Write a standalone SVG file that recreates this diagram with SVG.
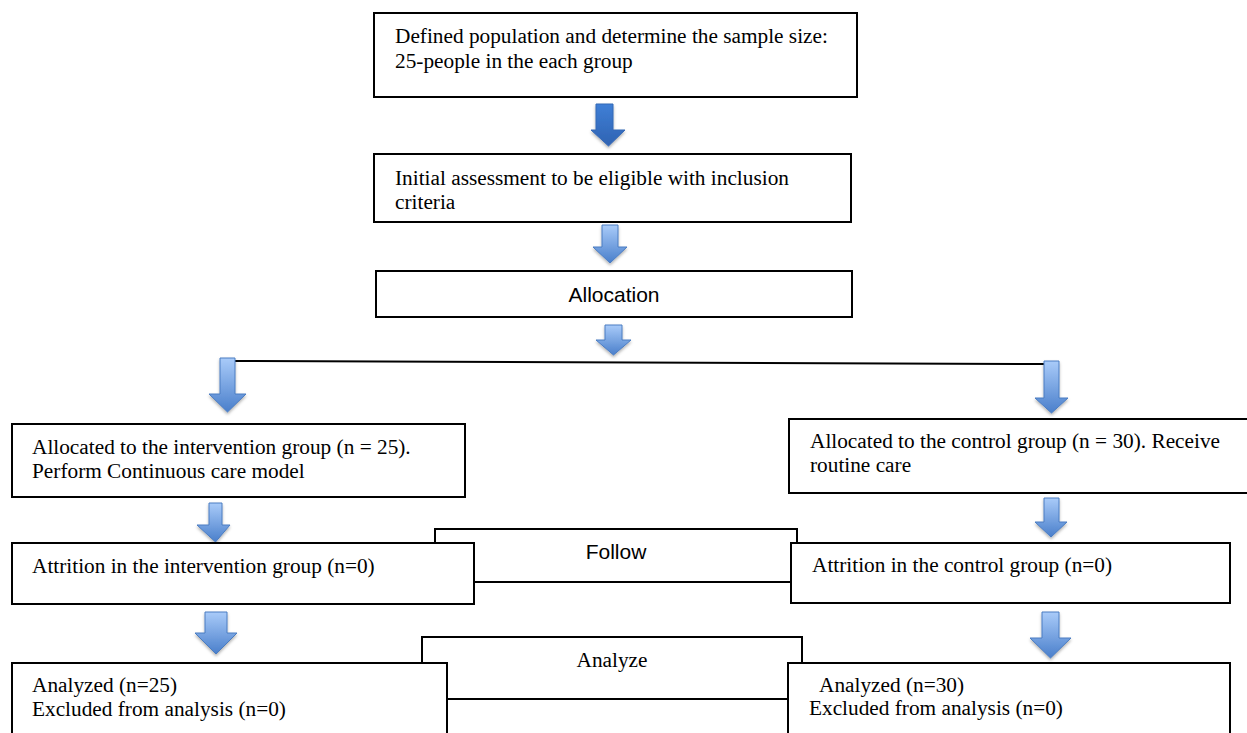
<svg xmlns="http://www.w3.org/2000/svg" width="1247" height="733" viewBox="0 0 1247 733">
<defs>
<linearGradient id="gLight" x1="0" y1="0" x2="0" y2="1">
<stop offset="0" stop-color="#a9cbf9"/>
<stop offset="1" stop-color="#4a7fcb"/>
</linearGradient>
<linearGradient id="gDark" x1="0" y1="0" x2="0" y2="1">
<stop offset="0" stop-color="#3f7fd6"/>
<stop offset="1" stop-color="#2f63b2"/>
</linearGradient>
<filter id="sh" x="-30%" y="-20%" width="160%" height="150%">
<feDropShadow dx="0" dy="2" stdDeviation="1.5" flood-color="#000" flood-opacity="0.3"/>
</filter>
<style>
.box{fill:#fff;stroke:#000;stroke-width:2}
.t{font-family:"Liberation Serif","Times New Roman",serif;font-size:21.3px;fill:#000}
.s{font-family:"Liberation Sans",Arial,sans-serif;font-size:21px;fill:#000}
.arL{fill:url(#gLight);stroke:#4a7cc2;stroke-width:1;filter:url(#sh)}
.arD{fill:url(#gDark);stroke:#3568b5;stroke-width:1;filter:url(#sh)}
.ln{stroke:#000;stroke-width:2;fill:none}
</style>
</defs>

<g id="connectors">
<line class="ln" x1="235" y1="361" x2="1044" y2="364"/>
<path id="a1" class="arD" d="M596,104 H613 V130 H625 L608.5,146 L591,130 H596 Z"/>
<path id="a2" class="arL" d="M602,225 H618 V247 H627 L610,263 L593,247 H602 Z"/>
<path id="a3" class="arL" d="M605,325 H622 V340 H631 L613.5,355 L596,340 H605 Z"/>
<path id="a4" class="arL" d="M220,358 H235 V394 H246 L227.5,412 L209,394 H220 Z"/>
<path id="a5" class="arL" d="M1044,361 H1059 V398 H1068 L1051.5,413 L1035,398 H1044 Z"/>
<path id="a6" class="arL" d="M209,503 H222 V525 H230 L215.5,542 L197,525 H209 Z"/>
<path id="a7" class="arL" d="M1044,498 H1059 V522 H1067 L1051,537 L1035,522 H1044 Z"/>
<path id="a8" class="arL" d="M205,612 H227 V633 H237 L216,654 L195,633 H205 Z"/>
<path id="a9" class="arL" d="M1042,612 H1059 V638 H1071 L1050.5,658 L1030,638 H1042 Z"/>
</g>

<g id="n-define">
<rect class="box" x="374" y="13" width="483" height="84"/>
<text class="t" x="395" y="43">Defined population and determine the sample size:</text>
<text class="t" x="395" y="68">25-people in the each group</text>
</g>

<g id="n-initial">
<rect class="box" x="374" y="154" width="477" height="68"/>
<text class="t" x="395" y="185">Initial assessment to be eligible with inclusion</text>
<text class="t" x="395" y="209">criteria</text>
</g>

<g id="n-allocation">
<rect class="box" x="376" y="271" width="476" height="46"/>
<text class="s" x="614" y="302" text-anchor="middle">Allocation</text>
</g>

<g id="n-alloc-int">
<rect class="box" x="12" y="424" width="453" height="73"/>
<text class="t" x="32" y="454">Allocated to the intervention group (n = 25).</text>
<text class="t" x="32" y="478">Perform Continuous care model</text>
</g>

<g id="n-alloc-ctrl">
<rect class="box" x="789" y="419" width="470" height="74"/>
<text class="t" x="810" y="448">Allocated to the control group (n = 30). Receive</text>
<text class="t" x="810" y="472">routine care</text>
</g>

<g id="n-follow">
<rect class="box" x="435" y="529" width="362" height="53"/>
<text class="s" x="616" y="559" text-anchor="middle">Follow</text>
</g>

<g id="n-attr-int">
<rect class="box" x="12" y="543" width="462" height="61"/>
<text class="t" x="32" y="573">Attrition in the intervention group (n=0)</text>
</g>

<g id="n-attr-ctrl">
<rect class="box" x="791" y="543" width="439" height="60"/>
<text class="t" x="812" y="572">Attrition in the control group (n=0)</text>
</g>

<g id="n-analyze">
<rect class="box" x="422" y="637" width="380" height="62"/>
<text class="t" x="612" y="667" text-anchor="middle">Analyze</text>
</g>

<g id="n-anal-int">
<rect class="box" x="12" y="663" width="435" height="80"/>
<text class="t" x="32" y="692">Analyzed (n=25)</text>
<text class="t" x="32" y="716">Excluded from analysis (n=0)</text>
</g>

<g id="n-anal-ctrl">
<rect class="box" x="788" y="663" width="442" height="80"/>
<text class="t" x="819" y="692">Analyzed (n=30)</text>
<text class="t" x="809" y="715">Excluded from analysis (n=0)</text>
</g>
</svg>
